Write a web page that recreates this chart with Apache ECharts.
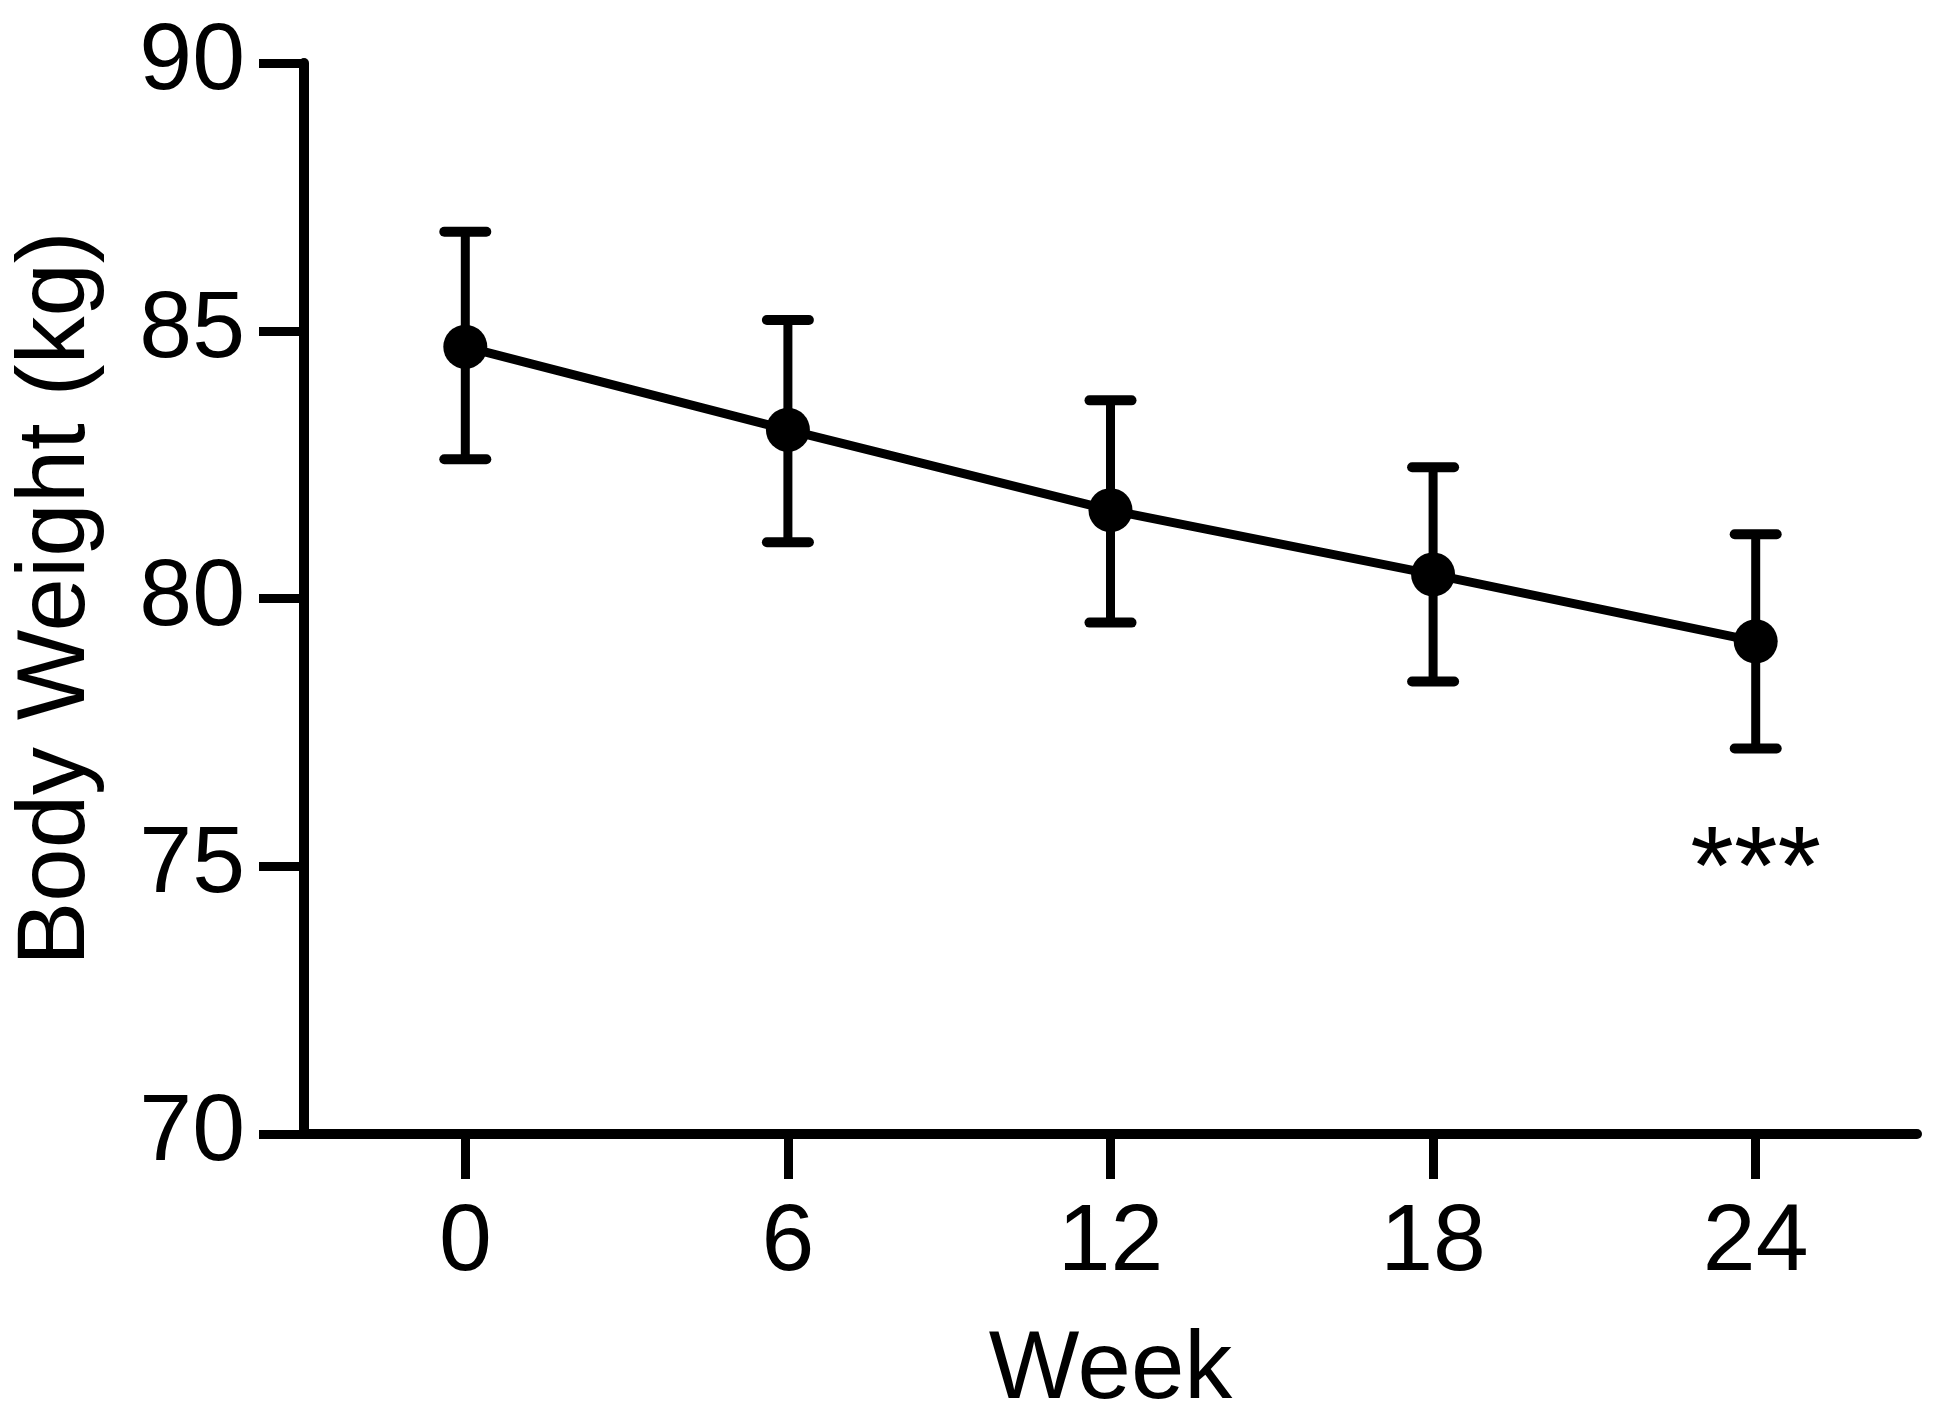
<!DOCTYPE html>
<html>
<head>
    <meta charset="utf-8">
    <script src="https://cdnjs.cloudflare.com/ajax/libs/echarts/6.0.0/echarts.min.js"></script>
    <style>
        html, body { margin: 0; padding: 0; background: #fff; }
        #main { width: 1949px; height: 1425px; }
    </style>
</head>
<body>
<div id="main"></div>
<script type="text/javascript">
    // data
    var weeks = [0, 6, 12, 18, 24];
    var meanWeight = [84.7, 83.15, 81.65, 80.45, 79.2];
    var upperBar = [86.85, 85.2, 83.7, 82.45, 81.2];
    var lowerBar = [82.6, 81.05, 79.55, 78.45, 77.2];
    var sigLabels = ['', '', '', '', '***'];
    var weekTicks = [0, 6, 12, 18, 24];

    var font = 'Liberation Sans, Arial, Helvetica, sans-serif';

    var lineData = [];
    var barData = [];
    for (var i = 0; i < weeks.length; i++) {
        lineData.push([weeks[i], meanWeight[i]]);
        barData.push([weeks[i], lowerBar[i], upperBar[i], i]);
    }

    function renderErrorBar(params, api) {
        var x = api.value(0);
        var top = api.coord([x, api.value(2)]);
        var bot = api.coord([x, api.value(1)]);
        var capHalf = 21;
        var st = { stroke: '#000', lineWidth: 9, lineCap: 'butt' };
        var capSt = { stroke: '#000', lineWidth: 10, lineCap: 'round' };
        var children = [
            { type: 'line', shape: { x1: top[0], y1: top[1], x2: bot[0], y2: bot[1] }, style: st },
            { type: 'line', shape: { x1: top[0] - capHalf, y1: top[1], x2: top[0] + capHalf, y2: top[1] }, style: capSt },
            { type: 'line', shape: { x1: bot[0] - capHalf, y1: bot[1], x2: bot[0] + capHalf, y2: bot[1] }, style: capSt }
        ];
        var sig = sigLabels[api.value(3)];
        if (sig) {
            children.push({
                type: 'text',
                x: bot[0],
                y: bot[1] + 125,
                style: {
                    text: sig,
                    fill: '#000',
                    font: '112px ' + font,
                    textAlign: 'center',
                    textVerticalAlign: 'middle'
                }
            });
        }
        return { type: 'group', children: children };
    }

    var chart = echarts.init(document.getElementById('main'));
    chart.setOption({
        backgroundColor: '#fff',
        animation: false,
        grid: { left: 304, right: 32, top: 63, bottom: 284 },
        xAxis: {
            type: 'value',
            min: -3,
            max: 27,
            name: 'Week',
            nameLocation: 'middle',
            nameGap: 190,
            nameTextStyle: { fontSize: 96, color: '#000', fontFamily: font },
            axisLine: { show: true, onZero: false, lineStyle: { color: '#000', width: 10 } },
            axisTick: { show: true, customValues: weekTicks, length: 45, lineStyle: { color: '#000', width: 9 } },
            axisLabel: { customValues: weekTicks, margin: 62, fontSize: 95, color: '#000', fontFamily: font },
            splitLine: { show: false }
        },
        yAxis: {
            type: 'value',
            min: 70,
            max: 90,
            interval: 5,
            name: 'Body Weight (kg)',
            nameLocation: 'middle',
            nameGap: 198,
            nameTextStyle: { fontSize: 96, color: '#000', fontFamily: font },
            axisLine: { show: true, onZero: false, lineStyle: { color: '#000', width: 10 } },
            axisTick: { show: true, length: 45, lineStyle: { color: '#000', width: 9 } },
            axisLabel: { margin: 59, fontSize: 95, color: '#000', fontFamily: font },
            splitLine: { show: false }
        },
        series: [
            {
                type: 'custom',
                renderItem: renderErrorBar,
                data: barData,
                encode: { x: 0, y: [1, 2] },
                z: 2
            },
            {
                type: 'line',
                data: lineData,
                symbol: 'circle',
                symbolSize: 44,
                lineStyle: { color: '#000', width: 9 },
                itemStyle: { color: '#000' },
                z: 3
            }
        ]
    });
</script>
</body>
</html>
